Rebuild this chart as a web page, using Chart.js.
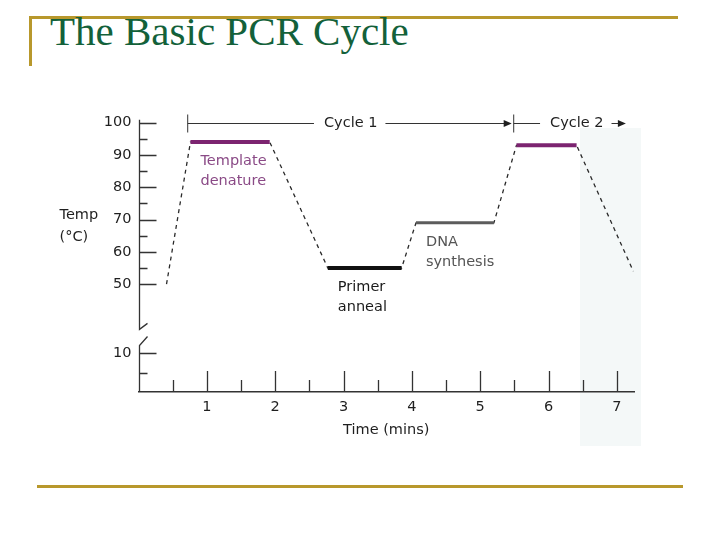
<!DOCTYPE html>
<html lang="en">
<head>
<meta charset="utf-8" />
<title>The Basic PCR Cycle</title>
<script src="https://cdn.jsdelivr.net/npm/chart.js@4.4.0/dist/chart.umd.min.js"></script>
<style>
  body { margin: 0; width: 720px; height: 540px; background: #fff; position: relative; overflow: hidden; }
  .rule { position: absolute; background: #b8982c; }
  .tint { position: absolute; background: #f4f8f8; }
  h1 {
    position: absolute; left: 50px; top: 11px; margin: 0;
    font: normal 41px/41px "Liberation Serif", "Times New Roman", serif;
    color: #13613a; white-space: nowrap;
  }
  #chartBox { position: absolute; left: 0; top: 0; }
</style>
</head>
<body>
  <div class="rule" style="left:29px; top:16px; width:649px; height:3px"></div>
  <div class="rule" style="left:29px; top:16px; width:3px; height:50px"></div>
  <div class="rule" style="left:37px; top:485px; width:646px; height:3px"></div>
  <div class="tint" style="left:580px; top:128px; width:61px; height:318px"></div>
  <h1>The Basic PCR Cycle</h1>
  <canvas id="chartBox" width="720" height="540"></canvas>

<script>
// ---- data ------------------------------------------------------------------
const timeMin = [0.41, 0.76, 1.92, 2.77, 3.85, 4.06, 5.20, 5.53, 6.41, 7.24];
const tempC   = [50,   94,   94,   55,   55,   69,   69,   93,   93,   54];

const stepFrom  = [0.76, 2.77, 4.06, 5.53];
const stepTo    = [1.92, 3.85, 5.20, 6.41];
const stepTemp  = [94, 55, 69, 93];
const stepNames = [["Template", "denature"], ["Primer", "anneal"], ["DNA", "synthesis"], []];

const cycleLabels = ["Cycle 1", "Cycle 2"];
const cycleFrom   = [0.72, 5.49];
const cycleTo     = [5.49, 7.16];

const xTickLabels = ["1", "2", "3", "4", "5", "6", "7"];
const xTickValues = [1, 2, 3, 4, 5, 6, 7];
const yTickLabels = ["100", "90", "80", "70", "60", "50", "10"];
const yTickValues = [100, 90, 80, 70, 60, 50, 10];
const yMinorValues = [95, 85, 75, 65, 55, 5];

// ---- styles -----------------------------------------------------------------
const FONT = '"DejaVu Sans", "Liberation Sans", Arial, sans-serif';
const INK = "#1f1f1f";
const stepColors = ["#7c2470", "#111111", "#5c5c5c", "#7c2470"];
const stepTextColors = ["#8a4a86", "#1a1a1a", "#555555", "#8a4a86"];

// axis is broken below 40 °C: the low part is squeezed
const Y_MIN = 16.6;
function toAxis(t) {
  return t >= 40 ? t : Y_MIN + t * 1.2;
}

const pcrPlugin = {
  id: "pcr",
  afterDraw(chart) {
    const { ctx, chartArea: a, scales } = chart;
    const xs = scales.x, ys = scales.y;
    const ax = Math.round(a.left) + 0.5;
    ctx.save();
    ctx.strokeStyle = "#333";
    ctx.fillStyle = "#333";
    ctx.lineWidth = 1.3;

    // broken y axis
    const yTop = ys.getPixelForValue(100) - 3;
    const yBreakHi = ys.getPixelForValue(36);
    const yBreakLo = ys.getPixelForValue(31);
    ctx.beginPath();
    ctx.moveTo(ax, yTop); ctx.lineTo(ax, yBreakHi); ctx.lineTo(ax + 8, yBreakHi - 6);
    ctx.moveTo(ax + 8, yBreakLo - 9); ctx.lineTo(ax, yBreakLo); ctx.lineTo(ax, a.bottom);
    ctx.stroke();

    // inward tick marks
    ctx.beginPath();
    yTickValues.forEach(v => {
      const y = Math.round(ys.getPixelForValue(toAxis(v))) + 0.5;
      ctx.moveTo(ax, y); ctx.lineTo(ax + 17, y);
    });
    yMinorValues.forEach(v => {
      const y = Math.round(ys.getPixelForValue(toAxis(v))) + 0.5;
      ctx.moveTo(ax, y); ctx.lineTo(ax + 8, y);
    });
    xTickValues.forEach(v => {
      const x = Math.round(xs.getPixelForValue(v)) + 0.5;
      ctx.moveTo(x, a.bottom); ctx.lineTo(x, a.bottom - 21);
      const xm = Math.round(xs.getPixelForValue(v - 0.5)) + 0.5;
      ctx.moveTo(xm, a.bottom); ctx.lineTo(xm, a.bottom - 12);
    });
    ctx.stroke();

    // y axis title, horizontal
    ctx.font = "14.5px " + FONT;
    ctx.fillStyle = INK;
    ctx.textAlign = "left";
    ctx.textBaseline = "middle";
    ctx.fillText("Temp", a.left - 79, 215);
    ctx.fillText("(\u00B0C)", a.left - 79, 237);

    // cycle brackets
    const cy = Math.round(ys.getPixelForValue(100)) + 0.5;
    ctx.lineWidth = 1;
    cycleLabels.forEach((label, i) => {
      const x0 = xs.getPixelForValue(cycleFrom[i]);
      const x1 = xs.getPixelForValue(cycleTo[i]);
      const w = ctx.measureText(label).width;
      const mid = (x0 + x1) / 2 + (i === 1 ? 6 : 0);
      ctx.beginPath();
      ctx.moveTo(x0, cy - 9); ctx.lineTo(x0, cy + 9);
      ctx.moveTo(x0, cy); ctx.lineTo(mid - w / 2 - 10, cy);
      ctx.moveTo(mid + w / 2 + 8, cy); ctx.lineTo(x1 - 6, cy);
      ctx.stroke();
      ctx.beginPath();
      ctx.moveTo(x1 - 2, cy); ctx.lineTo(x1 - 10, cy - 3.5); ctx.lineTo(x1 - 10, cy + 3.5);
      ctx.closePath(); ctx.fill();
      ctx.textAlign = "center";
      ctx.fillText(label, mid, cy);
    });

    // step captions below each plateau
    ctx.textAlign = "left";
    stepNames.forEach((lines, i) => {
      const x = xs.getPixelForValue(stepFrom[i]) + 10;
      const y = ys.getPixelForValue(stepTemp[i]);
      ctx.fillStyle = stepTextColors[i];
      lines.forEach((ln, k) => ctx.fillText(ln, x, y + 19 + k * 20));
    });
    ctx.restore();
  }
};

const datasets = [{
  label: "profile",
  data: timeMin.map((t, i) => ({ x: t, y: toAxis(tempC[i]) })),
  borderColor: "#2a2a2a",
  borderWidth: 1.3,
  borderDash: [4, 4],
  pointRadius: 0,
  tension: 0,
  order: 2
}];
stepFrom.forEach((s, i) => {
  datasets.push({
    label: stepNames[i].join(" ") || "Template denature",
    data: [{ x: s, y: toAxis(stepTemp[i]) }, { x: stepTo[i], y: toAxis(stepTemp[i]) }],
    borderColor: stepColors[i],
    borderWidth: i === 2 ? 3 : 4,
    borderCapStyle: "butt",
    pointRadius: 0,
    order: 1
  });
});

new Chart(document.getElementById("chartBox"), {
  type: "line",
  data: { datasets },
  options: {
    responsive: false,
    animation: false,
    devicePixelRatio: 1,
    layout: { padding: { left: 0, top: 122.7, right: 86, bottom: 98 } },
    plugins: { legend: { display: false }, tooltip: { enabled: false } },
    scales: {
      x: {
        type: "linear",
        min: 0,
        max: 7.25,
        afterBuildTicks: s => { s.ticks = xTickValues.map(v => ({ value: v })); },
        afterFit: s => { s.height = 50; },
        ticks: {
          callback: (v, i) => xTickLabels[i],
          padding: 7,
          maxRotation: 0,
          autoSkip: false,
          color: INK,
          font: { family: FONT, size: 14.5 }
        },
        grid: { display: false, drawTicks: false },
        border: { display: true, color: "#333", width: 1.5 },
        title: {
          display: true,
          text: "Time (mins)",
          color: INK,
          font: { family: FONT, size: 14.5 },
          padding: { top: 4, bottom: 3 }
        }
      },
      y: {
        type: "linear",
        min: Y_MIN,
        max: 100,
        afterBuildTicks: s => { s.ticks = yTickValues.map(v => ({ value: toAxis(v) })); },
        afterFit: s => { s.width = 138.5; },
        ticks: {
          callback: (v, i) => yTickLabels[i],
          padding: 7,
          autoSkip: false,
          color: INK,
          font: { family: FONT, size: 14.5 }
        },
        grid: { display: false, drawTicks: false },
        border: { display: false }
      }
    }
  },
  plugins: [pcrPlugin]
});
</script>
</body>
</html>
